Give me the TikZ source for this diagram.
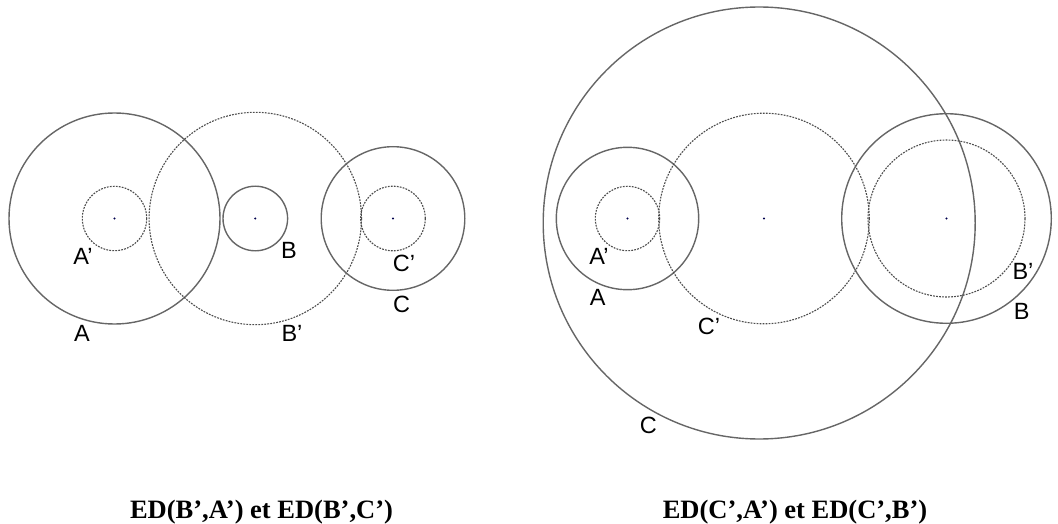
\documentclass[tikz,border=0pt]{standalone}
\usepackage{fontspec}
\setmainfont{Liberation Sans}
\newfontfamily\titlefont{Liberation Serif}
\begin{document}
\begin{tikzpicture}[x=1pt,y=-1pt,
  solidc/.style={draw=black!60,line width=1.4pt},
  dotc/.style={draw=black!70,line width=1.1pt,dash pattern=on 1.8pt off 1.2pt},
  ctr/.style={fill=blue!30!black,draw=none},
  lbl/.style={inner sep=0pt,font=\fontsize{23.5}{26}\selectfont,text=black},
  ttl/.style={inner sep=0pt,anchor=base,font=\titlefont\bfseries\fontsize{26.5}{30}\selectfont}]
\useasboundingbox (0,0) rectangle (1058,524);
% left diagram
\coordinate (LA) at (114.5,218.5);
\coordinate (LB) at (255.3,218.5);
\coordinate (LC) at (393,218.5);
\draw[solidc] (LA) circle (105.5);
\draw[dotc] (LA) circle (32.2);
\draw[dotc] (LB) circle (106.2);
\draw[solidc] (LB) circle (32.3);
\draw[solidc] (LC) circle (71.8);
\draw[dotc] (LC) circle (32.3);
\fill[ctr] (LA) circle (1.1);
\fill[ctr] (LB) circle (1.1);
\fill[ctr] (LC) circle (1.1);
\node[lbl] (lAp) at (83,256.5) {A’};
\node[lbl] (lB) at (289,250) {B};
\node[lbl] (lCp) at (404,263.3) {C’};
\node[lbl] (lC) at (401.7,304) {C};
\node[lbl] (lA) at (82,333.5) {A};
\node[lbl] (lBp) at (292,333) {B’};
% right diagram
\coordinate (RA) at (627.5,218.5);
\coordinate (RC) at (764,218.5);
\coordinate (RB) at (946.5,218.5);
\coordinate (RBig) at (759.2,223);
\draw[solidc] (RBig) circle (216);
\draw[solidc] (RA) circle (71.2);
\draw[dotc] (RA) circle (32.2);
\draw[dotc] (RC) circle (105.3);
\draw[solidc] (RB) circle (104.8);
\draw[dotc] (RB) circle (78.5);
\fill[ctr] (RA) circle (1.1);
\fill[ctr] (RC) circle (1.1);
\fill[ctr] (RB) circle (1.1);
\node[lbl] (rAp) at (599,256.5) {A’};
\node[lbl] (rA) at (597.7,297.5) {A};
\node[lbl] (rCp) at (709,326) {C’};
\node[lbl] (rBp) at (1023,271.5) {B’};
\node[lbl] (rB) at (1021.7,311.5) {B};
\node[lbl] (rC) at (648.3,425) {C};
% titles
\node[ttl] (t1) at (261.5,518.3) {ED(B’,A’) et ED(B’,C’)};
\node[ttl] (t2) at (795,518.3) {ED(C’,A’) et ED(C’,B’)};
\end{tikzpicture}
\end{document}
